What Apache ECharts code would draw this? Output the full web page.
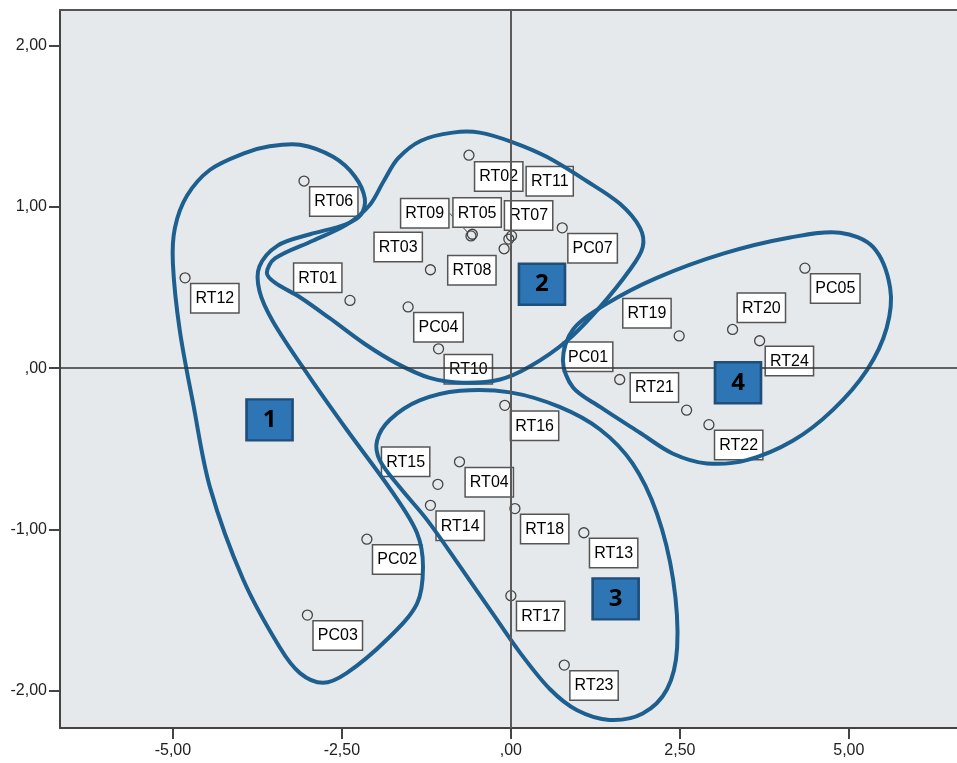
<!DOCTYPE html>
<html>
<head>
<meta charset="utf-8">
<style>
  html, body { margin: 0; padding: 0; background: #fff; }
  #chart { width: 957px; height: 763px; }
</style>
<script src="https://cdn.jsdelivr.net/npm/echarts@6/dist/echarts.min.js"></script>
</head>
<body>
<div id="chart"></div>
<script>
// points
const names = ['RT01', 'RT02', 'RT03', 'RT04', 'RT05', 'RT06', 'RT07', 'RT08', 'RT09', 'RT10',
  'RT11', 'RT12', 'RT13', 'RT14', 'RT15', 'RT16', 'RT17', 'RT18', 'RT19', 'RT20',
  'RT21', 'RT22', 'RT23', 'RT24', 'PC01', 'PC02', 'PC03', 'PC04', 'PC05', 'PC07'];
const xValues = [-2.38, -0.62, -1.19, -0.76, -0.57, -3.06, -0.03, -0.10, -0.59, -1.07,
  0.01, -4.82, 1.08, -1.19, -1.08, -0.09, 0.00, 0.06, 2.49, 3.28,
  2.60, 2.93, 0.79, 3.68, 1.61, -2.13, -3.01, -1.52, 4.35, 0.76];
const yValues = [0.42, 1.32, 0.61, -0.58, 0.83, 1.16, 0.80, 0.74, 0.82, 0.12,
  0.82, 0.56, -1.02, -0.85, -0.72, -0.23, -1.41, -0.87, 0.20, 0.24,
  -0.26, -0.35, -1.84, 0.17, -0.07, -1.06, -1.53, 0.38, 0.62, 0.87];

// cluster markers
const clusterIds = ['1', '2', '3', '4'];
const clusterX = [-3.57, 0.46, 1.55, 3.36];
const clusterY = [-0.32, 0.52, -1.43, -0.09];

// hand drawn cluster outlines (data units)
const outline1 = [[-4.70, -0.22], [-4.90, 0.24], [-5.00, 0.65], [-4.97, 0.87], [-4.79, 1.07], [-4.45, 1.23],
  [-3.96, 1.33], [-3.57, 1.375], [-3.12, 1.385], [-2.63, 1.31], [-2.31, 1.19], [-2.16, 1.05], [-2.22, 0.95],
  [-2.45, 0.89], [-2.97, 0.83], [-3.45, 0.76], [-3.72, 0.63], [-3.72, 0.48], [-3.52, 0.29], [-2.97, -0.06],
  [-2.43, -0.38], [-1.75, -0.77], [-1.39, -1.02], [-1.30, -1.23], [-1.39, -1.46], [-1.83, -1.68],
  [-2.43, -1.89], [-2.78, -1.95], [-3.12, -1.89], [-3.42, -1.73], [-3.96, -1.31], [-4.45, -0.74]];
const outline2 = [[-0.86, 1.46], [-0.46, 1.46], [0.03, 1.40], [0.53, 1.31], [1.12, 1.16], [1.61, 1.02],
  [1.91, 0.87], [1.95, 0.75], [1.76, 0.61], [1.32, 0.38], [0.83, 0.17], [0.28, 0.01], [-0.16, -0.07],
  [-0.71, -0.09], [-1.20, -0.06], [-1.69, 0.03], [-2.16, 0.15], [-2.68, 0.31], [-3.12, 0.44], [-3.49, 0.53],
  [-3.61, 0.59], [-3.49, 0.68], [-2.93, 0.79], [-2.43, 0.89], [-2.09, 1.01], [-1.88, 1.16], [-1.67, 1.30],
  [-1.33, 1.41]];
const outline3 = [[-0.75, -0.14], [-0.01, -0.15], [0.72, -0.24], [1.32, -0.38], [1.80, -0.59], [2.16, -0.90],
  [2.40, -1.31], [2.46, -1.73], [2.31, -1.99], [1.95, -2.14], [1.46, -2.18], [0.98, -2.12], [0.58, -1.99],
  [0.13, -1.76], [-0.27, -1.52], [-0.75, -1.23], [-1.24, -0.94], [-1.64, -0.74], [-1.94, -0.57],
  [-1.98, -0.45], [-1.79, -0.32], [-1.35, -0.20]];
const outline4 = [[0.77, 0.05], [0.92, 0.24], [1.42, 0.40], [2.16, 0.56], [3.14, 0.71], [4.13, 0.81],
  [4.87, 0.84], [5.36, 0.75], [5.61, 0.50], [5.56, 0.25], [5.27, -0.01], [4.76, -0.26], [4.17, -0.45],
  [3.49, -0.57], [2.90, -0.59], [2.40, -0.53], [1.91, -0.40], [1.32, -0.24], [0.92, -0.12]];
const outlines = [outline1, outline2, outline3, outline4];

const xTicks = [-5, -2.5, 0, 2.5, 5];
const yTicks = [-2, -1, 0, 1, 2];

// label box placement, pixels from the point (top-left corner of the box)
const UL = [-55, -36];
const labelShift = {
  RT01: UL, RT03: UL, RT15: UL, RT19: UL, RT21: UL, PC01: UL,
  RT02: [7, 8], RT05: [-18, -35], RT07: [-3, -37], RT08: [-55, 8],
  RT09: [-69, -36], RT11: [16, -68], RT20: [6, -35]
};
const symSize = 10;

const fmt = v => {
  let s = Math.abs(v).toFixed(2).replace('.', ',');
  if (s.indexOf('0,') === 0) s = s.slice(1);
  return (v < 0 ? '-' : '') + s;
};

const pointData = names.map((n, i) => {
  const d = labelShift[n] || [7, 7];
  const item = {
    name: n,
    value: [xValues[i], yValues[i]],
    label: { position: [d[0] + symSize / 2, d[1] + symSize / 2] }
  };
  if (n === 'RT09') {
    item.labelLine = { show: true, lineStyle: { color: '#444', width: 1 } };
  }
  return item;
});

const axisLineStyle = { color: '#444', width: 2 };

const chart = echarts.init(document.getElementById('chart'));
chart.setOption({
  animation: false,
  backgroundColor: '#fff',
  textStyle: { fontFamily: 'Liberation Sans, Arial, sans-serif' },
  grid: {
    left: 60, right: 0, top: 10, bottom: 35,
    show: true,
    backgroundColor: '#e6e9ec',
    borderWidth: 0
  },
  xAxis: [
    {
      type: 'value',
      min: -6.67, max: 6.60,
      splitLine: { show: false },
      axisLine: { onZero: false, lineStyle: axisLineStyle },
      axisTick: { length: 11, customValues: xTicks, lineStyle: axisLineStyle },
      axisLabel: { customValues: xTicks, formatter: fmt, color: '#222', fontSize: 16, margin: 15 }
    },
    {
      // top frame line only
      type: 'value',
      position: 'top',
      min: -6.67, max: 6.60,
      splitLine: { show: false },
      axisLine: { onZero: false, lineStyle: { color: '#555', width: 2 } },
      axisTick: { show: false },
      axisLabel: { show: false }
    }
  ],
  yAxis: {
    type: 'value',
    min: -2.23, max: 2.22,
    splitLine: { show: false },
    axisLine: { onZero: false, lineStyle: axisLineStyle },
    axisTick: { length: 11, customValues: yTicks, lineStyle: axisLineStyle },
    axisLabel: { customValues: yTicks, formatter: fmt, color: '#222', fontSize: 16, margin: 13 }
  },
  series: [
    {
      type: 'scatter',
      z: 2,
      symbol: 'circle',
      symbolSize: symSize,
      itemStyle: { color: 'rgba(0,0,0,0)', borderColor: '#444', borderWidth: 1.3, opacity: 1 },
      label: {
        show: true,
        formatter: '{b}',
        align: 'left',
        verticalAlign: 'top',
        color: '#000',
        fontSize: 16,
        lineHeight: 19,
        backgroundColor: '#fff',
        borderColor: '#555',
        borderWidth: 1.5,
        padding: [5, 4, 4, 4]
      },
      data: pointData
    },
    {
      type: 'line',
      z: 3,
      data: [],
      markLine: {
        silent: true,
        symbol: ['none', 'none'],
        label: { show: false },
        data: [
          { xAxis: 0, lineStyle: { type: 'solid', color: '#5a5a5a', width: 2 } },
          { yAxis: 0, lineStyle: { type: 'solid', color: '#333', width: 1.5 } }
        ]
      }
    },
    {
      type: 'custom',
      z: 4,
      silent: true,
      data: outlines.map(o => o[0]),
      renderItem: (params, api) => {
        const pts = outlines[params.dataIndex].map(p => api.coord(p));
        return {
          type: 'polygon',
          shape: { points: pts, smooth: 0.33 },
          style: { fill: 'none', stroke: '#1d5f8f', lineWidth: 4 }
        };
      }
    },
    {
      type: 'scatter',
      z: 5,
      symbol: 'rect',
      symbolSize: [46, 41],
      itemStyle: { color: '#2e75b6', borderColor: '#1f4e79', borderWidth: 2.5, opacity: 1 },
      label: {
        show: true,
        position: 'inside',
        formatter: '{b}',
        color: '#000',
        fontSize: 24,
        fontWeight: 'bold',
        fontFamily: 'Open Sans, DejaVu Sans, sans-serif'
      },
      data: clusterIds.map((c, i) => ({ name: c, value: [clusterX[i], clusterY[i]] }))
    }
  ]
});
</script>
</body>
</html>
